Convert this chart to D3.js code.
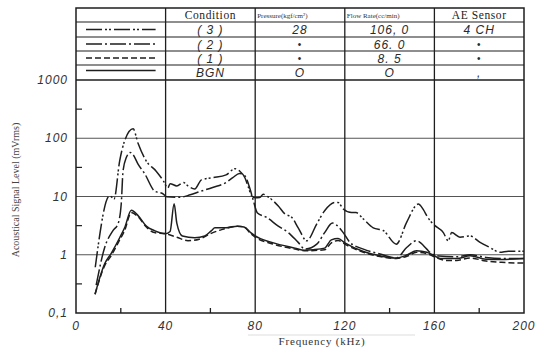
<!DOCTYPE html>
<html>
<head>
<meta charset="utf-8">
<script src="https://cdn.jsdelivr.net/npm/d3@7"></script>
<style>
  body { margin: 0; background: #fff; }
  svg { display: block; }
</style>
</head>
<body>
<div id="container"></div>
<script>
const width = 536,
  height = 351,
  margin = {top: 80, bottom: 38, left: 76, right: 12},
  tableTop = 8;

// frequency (kHz), level (mVrms)
const series3 = [[8.6,0.61],[15,10.3],[17,9.1],[19.5,41],[21.7,90],[25.5,145],[27.7,82],[31.3,41],[35.7,27.5],[39,18.6],
  [41,14],[42,16.6],[45,15.2],[48,17.4],[50,15.2],[53,13.5],[56,19.3],[61,21],[67,23.5],[71,30],[73,27.5],[75.4,21],[77,14.3],[78.4,10.3],
  [80,9.5],[82,9.6],[83.6,10.9],[85.7,9.9],[90.3,6.9],[93.3,5],[96.3,4.4],[99.2,2.9],[103,1.74],[107.5,3.4],[111,5.7],[115.6,7.9],[117,7.9],
  [119.3,6.1],[123,5.3],[125,5.3],[128.3,4.1],[132.7,2.9],[137.2,2.6],[143,1.52],[147.6,3.6],[152.8,7.4],[155,6],[157,4.4],[159.5,3.35],
  [164,2.4],[166.2,1.74],[167.7,2.4],[171.4,2.0],[175.9,2.1],[180.4,1.63],[184.8,1.33],[189.3,1.1],[193,1.15],[200,1.15]];

const series2 = [[9,0.3],[12.8,1.33],[16.5,2.6],[18.75,3.4],[20.2,7.5],[21,27.5],[22.5,47],[24.2,57],[25.5,52],[27.7,36],[30.7,24.5],
  [35,12.5],[39,11],[40.5,9.9],[46.4,9.7],[51,10.7],[55.4,12.2],[61,14.3],[67,17.4],[70,21],[73,24.9],[75.4,22.6],[77.7,13.4],[79,9],
  [81,5.2],[85,4.4],[90.3,3.1],[94.8,2.4],[99.2,1.63],[102.2,1.25],[107.5,1.52],[111,2.4],[114.5,3.5],[116,3.3],[119.3,2.4],[122.3,1.63],
  [128.3,1.25],[135.7,1.03],[143,0.88],[147.6,1.33],[152,1.74],[156.6,1.25],[158,1.1],[162,0.95],[170,0.92],[176,1.0],[183,0.9],
  [190,0.86],[200,0.86]];

const series1 = [[8.5,0.21],[12.8,0.65],[15.6,0.95],[19.5,1.8],[21.7,2.6],[24.7,5.3],[27.7,4.5],[31.4,3.0],[35,2.4],[40,2.3],
  [45,2.0],[50,1.74],[55,1.85],[60,2.3],[65,2.7],[72,3.1],[75,3.0],[78,2.3],[80,2.0],[87.4,1.55],[97.8,1.25],[102,1.17],[111,1.22],
  [114,1.6],[117,1.75],[121,1.45],[128.3,1.1],[135.7,0.93],[143,0.86],[148,0.95],[152,1.1],[156.6,1.05],[160,0.92],[165,0.8],
  [170,0.8],[176,0.88],[183,0.78],[190,0.74],[200,0.72]];

const seriesBGN = [[8.5,0.21],[12.8,0.7],[15.6,1.04],[19.5,1.96],[21.7,2.9],[24.7,5.8],[27.7,4.7],[31.4,3.1],[35,2.6],[40,2.3],
  [42,2.5],[43.8,7.5],[45,3.5],[47.5,2.1],[53,1.96],[57.5,2.1],[60.5,2.6],[62,2.9],[67,2.9],[72,3.1],[75,3.0],[78,2.4],[80,2.1],
  [87.4,1.63],[97.8,1.3],[102,1.2],[106,1.22],[111,1.3],[114,1.8],[117,1.9],[120,1.6],[128.3,1.14],[135.7,0.96],[143,0.88],[148,1.0],
  [152,1.17],[156.6,1.1],[160,0.96],[162.5,0.86],[170,0.86],[176,0.96],[183,0.84],[190,0.83],[200,0.86]];

const xTicks = [0, 40, 80, 120, 160, 200];
const xMinor = [20, 60, 100, 140, 180];
const yTicks = [0.1, 1, 10, 100, 1000];
const yTickLabels = ["0,1", "1", "10", "100", "1000"];
const yMinor = [0.316, 3.16, 31.6, 316];

const tableHeader = ["", "Condition", "Pressure(kgf/cm²)", "Flow Rate(cc/min)", "AE Sensor"];
const conditions = ["( 3 )", "( 2 )", "( 1 )", "BGN"];
const pressures = ["28", "•", "•", "O"];
const flowRates = ["106, 0", "66. 0", "8. 5", "O"];
const sensors = ["4 CH", "•", "•", ","];
const dashes = ["16,3,2,2,2,3", "16,3,2,3", "6,3", null];

const svg = d3.select("#container")
  .append("svg")
  .attr("width", width)
  .attr("height", height);

const xScale = d3.scaleLinear()
  .domain([0, 200])
  .range([margin.left, width - margin.right]);

const yScale = d3.scaleLog()
  .domain([0.1, 1000])
  .range([height - margin.bottom, margin.top]);

const ink = "#1e1e1e";
const hand = "'Liberation Sans', sans-serif";
const serif = "'Liberation Serif', serif";

// grid
svg.append("g")
  .selectAll("line")
  .data([1, 10, 100])
  .join("line")
  .attr("x1", xScale(0)).attr("x2", xScale(200))
  .attr("y1", d => yScale(d)).attr("y2", d => yScale(d))
  .attr("stroke", "#555").attr("stroke-width", 1.1);

svg.append("g")
  .selectAll("line")
  .data([40, 80, 120, 160])
  .join("line")
  .attr("x1", d => xScale(d)).attr("x2", d => xScale(d))
  .attr("y1", tableTop).attr("y2", yScale(0.1))
  .attr("stroke", ink).attr("stroke-width", 1.3);

// frame (plot + table)
svg.append("rect")
  .attr("x", xScale(0)).attr("y", tableTop)
  .attr("width", xScale(200) - xScale(0))
  .attr("height", yScale(0.1) - tableTop)
  .attr("fill", "none").attr("stroke", ink).attr("stroke-width", 1.5);

// minor ticks
svg.append("g")
  .selectAll("line")
  .data(xMinor)
  .join("line")
  .attr("x1", d => xScale(d)).attr("x2", d => xScale(d))
  .attr("y1", yScale(0.1)).attr("y2", yScale(0.1) - 5)
  .attr("stroke", ink).attr("stroke-width", 1.3);

svg.append("g")
  .selectAll("line")
  .data(yMinor)
  .join("line")
  .attr("x1", xScale(0)).attr("x2", xScale(0) + 6)
  .attr("y1", d => yScale(d)).attr("y2", d => yScale(d))
  .attr("stroke", ink).attr("stroke-width", 1.2);

// tick labels
svg.append("g")
  .selectAll("text")
  .data(xTicks)
  .join("text")
  .attr("x", d => xScale(d))
  .attr("y", yScale(0.1) + 17)
  .attr("text-anchor", "middle")
  .attr("font-family", hand).attr("font-style", "italic")
  .attr("font-size", 12).attr("letter-spacing", 1)
  .attr("fill", "#333")
  .text(d => d);

svg.append("g")
  .selectAll("text")
  .data(yTicks)
  .join("text")
  .attr("x", xScale(0) - 8)
  .attr("y", d => yScale(d) + 4)
  .attr("text-anchor", "end")
  .attr("font-family", hand).attr("font-style", "italic")
  .attr("font-size", 12).attr("letter-spacing", 1)
  .attr("fill", "#333")
  .text((d, i) => yTickLabels[i]);

// axis titles
svg.append("text")
  .attr("x", 322).attr("y", 345)
  .attr("text-anchor", "middle")
  .attr("font-family", serif).attr("font-size", 11).attr("letter-spacing", 0.8)
  .attr("fill", "#333")
  .text("Frequency  (kHz)");

svg.append("line")
  .attr("x1", 248).attr("x2", 415).attr("y1", 335).attr("y2", 335)
  .attr("stroke", "#ddd");

svg.append("text")
  .attr("transform", `translate(19,${190}) rotate(-90)`)
  .attr("text-anchor", "middle")
  .attr("font-family", serif).attr("font-size", 10)
  .attr("fill", "#444")
  .text("Acoustical Signal Level (mVrms)");

// table
const rowEdges = [8, 22, 37, 51, 65, 80];
const colEdges = [0, 40, 80, 120, 160, 200].map(d => xScale(d));

svg.append("g")
  .selectAll("line")
  .data(rowEdges.slice(1, -1))
  .join("line")
  .attr("x1", xScale(0)).attr("x2", xScale(200))
  .attr("y1", d => d).attr("y2", d => d)
  .attr("stroke", ink).attr("stroke-width", 1.2);

svg.append("line")
  .attr("x1", xScale(0)).attr("x2", xScale(200))
  .attr("y1", yScale(1000)).attr("y2", yScale(1000))
  .attr("stroke", ink).attr("stroke-width", 1.4);

const rowMid = i => (rowEdges[i] + rowEdges[i + 1]) / 2;
const colMid = j => (colEdges[j] + colEdges[j + 1]) / 2;

svg.append("text").attr("x", colMid(1)).attr("y", rowMid(0) + 4)
  .attr("text-anchor", "middle").attr("font-family", serif).attr("font-size", 11.5)
  .attr("letter-spacing", 0.6).attr("fill", "#222").text(tableHeader[1]);
svg.append("text").attr("x", colEdges[2] + 2).attr("y", rowMid(0) + 2.5)
  .attr("font-family", serif).attr("font-size", 7).attr("fill", "#333").text(tableHeader[2]);
svg.append("text").attr("x", colEdges[3] + 2).attr("y", rowMid(0) + 2.5)
  .attr("font-family", serif).attr("font-size", 7).attr("fill", "#333").text(tableHeader[3]);
svg.append("text").attr("x", colMid(4)).attr("y", rowMid(0) + 4)
  .attr("text-anchor", "middle").attr("font-family", serif).attr("font-size", 11.5)
  .attr("letter-spacing", 0.6).attr("fill", "#222").text(tableHeader[4]);

const rows = conditions.map((c, i) => ({c, p: pressures[i], f: flowRates[i], s: sensors[i], dash: dashes[i], i}));

const rowG = svg.append("g")
  .selectAll("g")
  .data(rows)
  .join("g");

rowG.append("line")
  .attr("x1", colEdges[0] + 10).attr("x2", colEdges[1] - 10)
  .attr("y1", d => rowMid(d.i + 1) - (d.dash ? 0 : 2))
  .attr("y2", d => rowMid(d.i + 1) - (d.dash ? 0 : 2))
  .attr("stroke", ink).attr("stroke-width", 1.3)
  .attr("stroke-dasharray", d => d.dash);

[["c", 1], ["p", 2], ["f", 3], ["s", 4]].forEach(([key, col]) => {
  rowG.append("text")
    .attr("x", colMid(col))
    .attr("y", d => rowMid(d.i + 1) + (d[key] === "•" ? 3.5 : 4.5))
    .attr("text-anchor", "middle")
    .attr("font-family", hand)
    .attr("font-style", d => d[key] === "•" ? "normal" : "italic")
    .attr("font-size", d => d[key] === "•" ? 10 : 12)
    .attr("letter-spacing", 1)
    .attr("fill", "#2a2a2a")
    .text(d => d[key]);
});

// curves
const line = d3.line()
  .x(d => xScale(d[0]))
  .y(d => yScale(d[1]))
  .curve(d3.curveMonotoneX);

const curves = [
  {name: "(3)", data: series3, dash: dashes[0]},
  {name: "(2)", data: series2, dash: dashes[1]},
  {name: "(1)", data: series1, dash: dashes[2]},
  {name: "BGN", data: seriesBGN, dash: dashes[3]}
];

svg.append("g")
  .selectAll("path")
  .data(curves)
  .join("path")
  .attr("d", d => line(d.data))
  .attr("fill", "none")
  .attr("stroke", ink)
  .attr("stroke-width", 1.5)
  .attr("stroke-linejoin", "round")
  .attr("stroke-dasharray", d => d.dash);
</script>
</body>
</html>
